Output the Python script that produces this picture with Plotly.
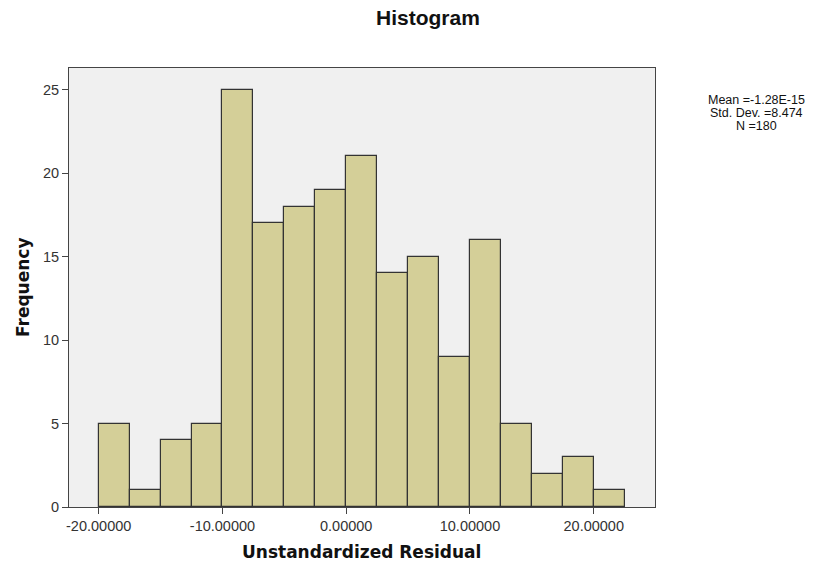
import plotly.graph_objects as go

# Histogram of unstandardized residuals (bin width 2.5, starting at -20)
bin_starts = [-20.0, -17.5, -15.0, -12.5, -10.0, -7.5, -5.0, -2.5, 0.0,
              2.5, 5.0, 7.5, 10.0, 12.5, 15.0, 17.5, 20.0]
counts = [5, 1, 4, 5, 25, 17, 18, 19, 21, 14, 15, 9, 16, 5, 2, 3, 1]
bin_width = 2.5

x_ticks = [-20, -10, 0, 10, 20]
x_tick_labels = ["-20.00000", "-10.00000", "0.00000", "10.00000", "20.00000"]
y_ticks = [0, 5, 10, 15, 20, 25]

stats_lines = ["Mean =-1.28E-15", "Std. Dev. =8.474", "N =180"]

centers = [s + bin_width / 2 for s in bin_starts]

fig = go.Figure(
    go.Bar(
        x=centers,
        y=counts,
        width=[bin_width] * len(counts),
        marker=dict(color="#D4CF98", line=dict(color="#333333", width=1.2)),
        hoverinfo="x+y",
    )
)

axis_common = dict(
    showline=True,
    mirror=True,
    linecolor="#444444",
    linewidth=1,
    ticks="outside",
    ticklen=6,
    tickcolor="#444444",
    showgrid=False,
    zeroline=False,
    tickfont=dict(family="Arial, Liberation Sans", size=14.5, color="#333333"),
)

fig.update_xaxes(
    range=[-22.4, 24.95],
    tickvals=x_ticks,
    ticktext=x_tick_labels,
    **axis_common,
)
fig.update_yaxes(
    range=[0, 26.3],
    tickvals=y_ticks,
    **axis_common,
)

# Page-pixel helpers for labels placed outside the plot area
W, H = 822, 569
L, R, T, B = 69, 167, 68, 62
pw, ph = W - L - R, H - T - B

fig.update_layout(
    width=W,
    height=H,
    margin=dict(l=L, r=R, t=T, b=B),
    paper_bgcolor="white",
    plot_bgcolor="#F0F0F0",
    bargap=0,
    showlegend=False,
)


def px_x(x):
    return (x - L) / pw


def px_y(y):
    return (H - B - y) / ph


anns = [
    dict(text="<b>Histogram</b>", x=px_x(428), y=px_y(18),
         font=dict(family="Arial, Liberation Sans", size=21, color="#111111")),
    dict(text="<b>Unstandardized Residual</b>", x=px_x(361), y=px_y(552),
         font=dict(family="DejaVu Sans", size=17, color="#111111")),
    dict(text="<b>Frequency</b>", x=px_x(23), y=px_y(287), textangle=-90,
         font=dict(family="DejaVu Sans", size=17, color="#111111")),
]
for line, yc in zip(stats_lines, [100, 113, 126]):
    anns.append(dict(text=line, x=px_x(756), y=px_y(yc),
                     font=dict(family="Arial, Liberation Sans", size=12.5, color="#111111")))

for a in anns:
    a.update(xref="paper", yref="paper", xanchor="center", yanchor="middle",
             showarrow=False, borderpad=0)

fig.update_layout(annotations=anns)

fig.write_html("out.html")
